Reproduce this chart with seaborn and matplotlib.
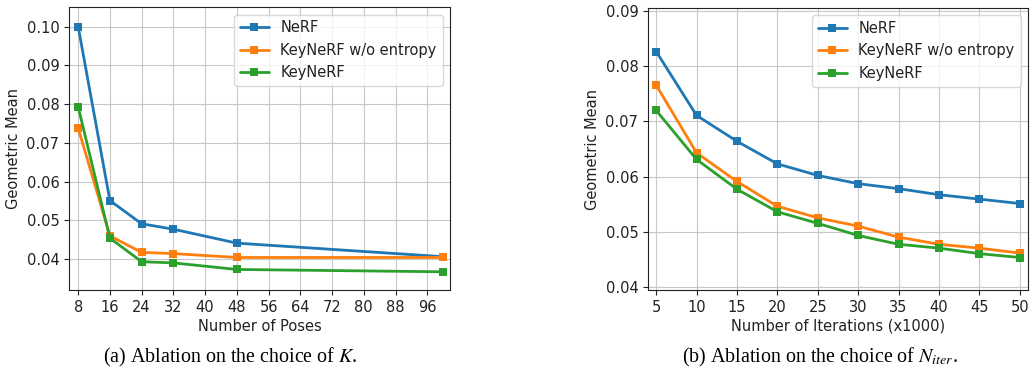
import matplotlib
matplotlib.use("Agg")
import matplotlib.pyplot as plt
import seaborn as sns
import pandas as pd
from matplotlib.ticker import FormatStrFormatter

# ---- data ----
series_names = ["NeRF", "KeyNeRF w/o entropy", "KeyNeRF"]

poses = [8, 16, 24, 32, 48, 100]
poses_nerf = [0.1000, 0.0551, 0.0491, 0.0477, 0.0441, 0.0406]
poses_wo_entropy = [0.0738, 0.0460, 0.0417, 0.0414, 0.0404, 0.0404]
poses_keynerf = [0.0793, 0.0454, 0.0393, 0.0390, 0.0373, 0.0367]
poses_ticks = [8, 16, 24, 32, 40, 48, 56, 64, 72, 80, 88, 96]

iters = [5, 10, 15, 20, 25, 30, 35, 40, 45, 50]
iters_nerf = [0.0827, 0.0711, 0.0664, 0.0623, 0.0602, 0.0587, 0.0578, 0.0567, 0.0559, 0.0551]
iters_wo_entropy = [0.0766, 0.0643, 0.0591, 0.0546, 0.0525, 0.0510, 0.0490, 0.0477, 0.0470, 0.0461]
iters_keynerf = [0.0720, 0.0631, 0.0577, 0.0536, 0.0515, 0.0493, 0.0477, 0.0470, 0.0460, 0.0453]
iters_ticks = [5, 10, 15, 20, 25, 30, 35, 40, 45, 50]

caption_a = "(a) Ablation on the choice of $K$."
caption_b = "(b) Ablation on the choice of $N_{iter}$."

# ---- style ----
sns.set_style("ticks", {"axes.grid": True, "grid.color": "#c8c8c8",
                        "axes.edgecolor": "#222222", "xtick.color": "#222222",
                        "ytick.color": "#222222", "axes.labelcolor": "#222222",
                        "text.color": "#222222"})
plt.rcParams["font.family"] = ["DejaVu Sans"]
plt.rcParams["mathtext.fontset"] = "stix"
FS = 10.5

colors = sns.color_palette("tab10", 3)

fig = plt.figure(figsize=(10.32, 3.74), dpi=100)
ax1 = fig.add_axes([0.0669, 0.2246, 0.369, 0.756])
ax2 = fig.add_axes([0.628, 0.2246, 0.368, 0.754])


def draw(ax, x, ys, ticks, xlabel):
    for name, y, c in zip(series_names, ys, colors):
        df = pd.DataFrame({"x": x, "y": y})
        sns.lineplot(data=df, x="x", y="y", ax=ax, color=c, label=name,
                     marker="s", markersize=5.5, linewidth=2,
                     markeredgewidth=0)
    ax.set_xticks(ticks)
    ax.set_xlabel(xlabel, fontsize=FS, labelpad=3)
    ax.set_ylabel("Geometric Mean", fontsize=FS)
    ax.yaxis.set_major_formatter(FormatStrFormatter("%.2f"))
    ax.tick_params(labelsize=FS, direction="out", length=3.5, width=0.8)
    ax.grid(True, color="#c8c8c8", linewidth=0.8)
    for s in ax.spines.values():
        s.set_visible(True)
        s.set_linewidth(0.8)
    ax.legend(loc="upper right", fontsize=FS, framealpha=0.8,
              edgecolor="#d0d0d0")


draw(ax1, poses, [poses_nerf, poses_wo_entropy, poses_keynerf], poses_ticks,
     "Number of Poses")
ax1.set_xlim(5.7, 101.7)
ax1.set_ylim(0.032, 0.105)
ax1.set_yticks([0.04, 0.05, 0.06, 0.07, 0.08, 0.09, 0.10])

draw(ax2, iters, [iters_nerf, iters_wo_entropy, iters_keynerf], iters_ticks,
     "Number of Iterations (x1000)")
ax2.set_xlim(4.0, 51.0)
ax2.set_ylim(0.0394, 0.0906)
ax2.set_yticks([0.04, 0.05, 0.06, 0.07, 0.08, 0.09])

fig.text(0.223, 0.045, caption_a, ha="center", va="center",
         fontsize=14.4, family="Liberation Serif", color="black")
fig.text(0.795, 0.045, caption_b, ha="center", va="center",
         fontsize=14.4, family="Liberation Serif", color="black")

fig.savefig("out.png", dpi=100)
